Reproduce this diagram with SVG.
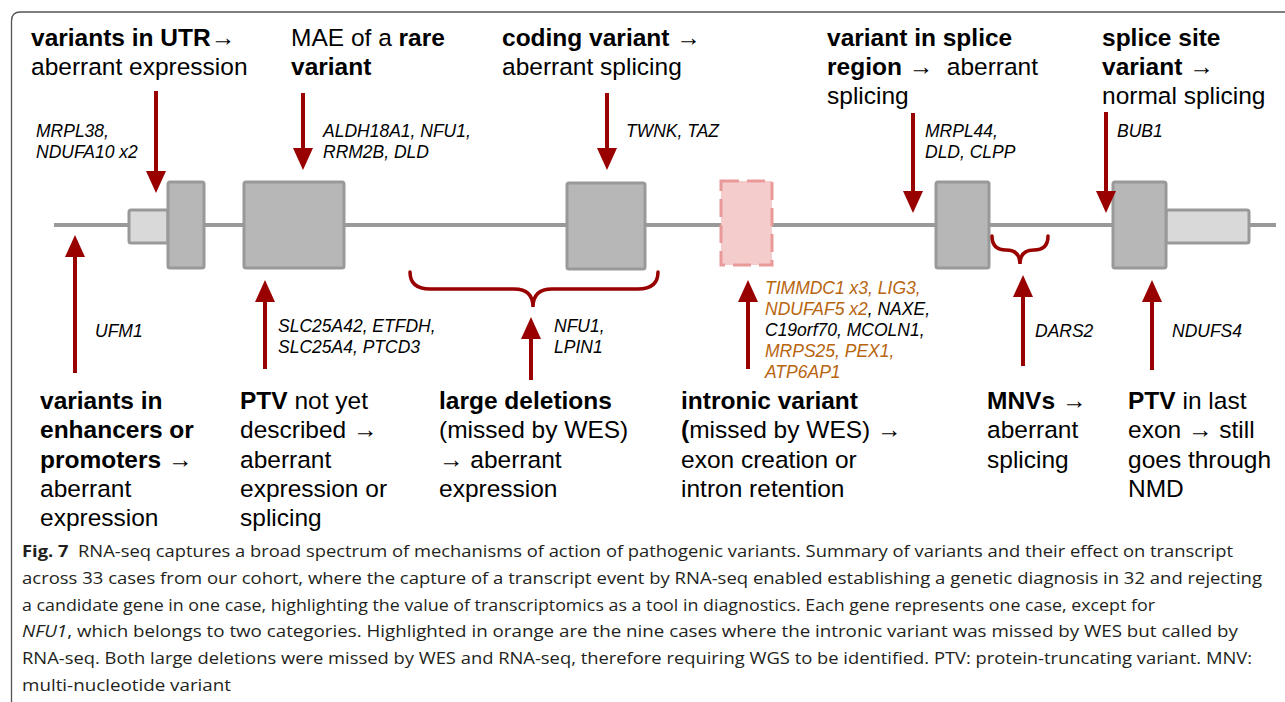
<svg xmlns="http://www.w3.org/2000/svg" width="1285" height="702" viewBox="0 0 1285 702">
<style>
.lbl{font-family:"Liberation Sans",Arial,sans-serif;font-size:24.5px;fill:#000;white-space:pre}
.b{font-weight:bold}
.gene{font-family:"Liberation Sans",Arial,sans-serif;font-size:17.5px;font-style:italic;fill:#000}
.or{fill:#b8650f}
.exon{fill:#b7b7b7;stroke:#999;stroke-width:3}
.utr{fill:#d9d9d9;stroke:#999;stroke-width:3}
.arr{stroke:#990000;stroke-width:4;fill:none}
.brace{stroke:#990000;stroke-width:3.5;fill:none;stroke-linecap:round}
.cap{font-family:"Open Sans","Lato",sans-serif;font-size:16.5px;fill:#231f20;white-space:pre}
</style>
<defs>
<marker id="head" viewBox="0 0 22 20" refX="0" refY="10" markerWidth="22" markerHeight="20" markerUnits="userSpaceOnUse" orient="auto">
<path d="M0,0 L22,10 L0,20 z" fill="#990000"/>
</marker>
</defs>
<rect width="1285" height="702" fill="#fff"/>
<path d="M11.5 702 V21 Q11.5 12 20.5 12 H1285" fill="none" stroke="#555" stroke-width="1.3"/>

<g id="gene-model">
<line x1="54" y1="225" x2="1276" y2="225" stroke="#999" stroke-width="4"/>
<rect id="utr5" class="utr" x="129" y="210" width="39" height="33" rx="2"/>
<rect id="exon1" class="exon" x="168" y="182" width="36" height="86" rx="2"/>
<rect id="exon2" class="exon" x="244" y="182" width="100" height="86" rx="2"/>
<rect id="exon3" class="exon" x="567" y="183" width="78" height="86" rx="2"/>
<rect id="new-exon" x="721" y="181" width="51" height="84" fill="#f4cccc" stroke="#ea9999" stroke-width="3" stroke-dasharray="18 8"/>
<rect id="exon4" class="exon" x="936" y="182" width="53" height="86" rx="2"/>
<rect id="utr3" class="utr" x="1166" y="210" width="83" height="33" rx="2"/>
<rect id="exon5" class="exon" x="1113" y="182" width="53" height="86" rx="2"/>
</g>

<g id="connectors">
<line class="arr" x1="156" y1="91" x2="156" y2="171" marker-end="url(#head)"/>
<line class="arr" x1="303" y1="93" x2="303" y2="148" marker-end="url(#head)"/>
<line class="arr" x1="607" y1="93" x2="607" y2="148" marker-end="url(#head)"/>
<line class="arr" x1="913" y1="113" x2="913" y2="191" marker-end="url(#head)"/>
<line class="arr" x1="1106" y1="112" x2="1106" y2="191" marker-end="url(#head)"/>
<line class="arr" x1="75" y1="373" x2="75" y2="257" marker-end="url(#head)"/>
<line class="arr" x1="265" y1="369" x2="265" y2="302" marker-end="url(#head)"/>
<line class="arr" x1="531" y1="380" x2="531" y2="339" marker-end="url(#head)"/>
<line class="arr" x1="748" y1="369" x2="748" y2="302" marker-end="url(#head)"/>
<line class="arr" x1="1023" y1="366" x2="1023" y2="297" marker-end="url(#head)"/>
<line class="arr" x1="1152" y1="370" x2="1152" y2="302" marker-end="url(#head)"/>
<path class="brace" d="M410 272 Q410 289 430 289 H514 Q533 289 533 307 Q533 289 552 289 H638 Q658 289 658 272"/>
<path class="brace" d="M992 236 Q992 250 1006 250 Q1020 250 1020 264 Q1020 250 1034 250 Q1048 250 1048 236"/>
</g>

<g id="utr-label">
<text class="lbl" x="31" y="46"><tspan class="b">variants in UTR</tspan>→</text>
<text class="lbl" x="31" y="75">aberrant expression</text>
<text class="gene" x="36" y="137">MRPL38,</text>
<text class="gene" x="36" y="158">NDUFA10 x2</text>
</g>
<g id="mae-label">
<text class="lbl" x="291" y="46">MAE of a <tspan class="b">rare</tspan></text>
<text class="lbl b" x="291" y="75">variant</text>
<text class="gene" x="323" y="137">ALDH18A1, NFU1,</text>
<text class="gene" x="323" y="158">RRM2B, DLD</text>
</g>
<g id="coding-label">
<text class="lbl" x="502" y="46"><tspan class="b">coding variant</tspan> →</text>
<text class="lbl" x="502" y="75">aberrant splicing</text>
<text class="gene" x="626" y="137">TWNK, TAZ</text>
</g>
<g id="splice-region-label">
<text class="lbl b" x="827" y="46">variant in splice</text>
<text class="lbl" x="827" y="75"><tspan class="b">region</tspan> →  aberrant</text>
<text class="lbl" x="827" y="104">splicing</text>
<text class="gene" x="925" y="137">MRPL44,</text>
<text class="gene" x="925" y="158">DLD, CLPP</text>
</g>
<g id="splice-site-label">
<text class="lbl b" x="1102" y="46">splice site</text>
<text class="lbl" x="1102" y="75"><tspan class="b">variant</tspan> →</text>
<text class="lbl" x="1102" y="104">normal splicing</text>
<text class="gene" x="1117" y="137">BUB1</text>
</g>

<g id="enhancer-label">
<text class="gene" x="95" y="337">UFM1</text>
<text class="lbl b" x="40" y="409">variants in</text>
<text class="lbl b" x="40" y="438">enhancers or</text>
<text class="lbl" x="40" y="468"><tspan class="b">promoters</tspan> →</text>
<text class="lbl" x="40" y="497">aberrant</text>
<text class="lbl" x="40" y="526">expression</text>
</g>
<g id="ptv-label">
<text class="gene" x="278" y="332">SLC25A42, ETFDH,</text>
<text class="gene" x="278" y="353">SLC25A4, PTCD3</text>
<text class="lbl" x="240" y="409"><tspan class="b">PTV</tspan> not yet</text>
<text class="lbl" x="240" y="438">described →</text>
<text class="lbl" x="240" y="468">aberrant</text>
<text class="lbl" x="240" y="497">expression or</text>
<text class="lbl" x="240" y="526">splicing</text>
</g>
<g id="deletion-label">
<text class="gene" x="554" y="332">NFU1,</text>
<text class="gene" x="554" y="353">LPIN1</text>
<text class="lbl b" x="439" y="409">large deletions</text>
<text class="lbl" x="439" y="438">(missed by WES)</text>
<text class="lbl" x="439" y="468">→ aberrant</text>
<text class="lbl" x="439" y="497">expression</text>
</g>
<g id="intronic-label">
<text class="gene or" x="765" y="294">TIMMDC1 x3, LIG3,</text>
<text class="gene" x="765" y="315"><tspan class="or">NDUFAF5 x2</tspan>, NAXE,</text>
<text class="gene" x="765" y="336">C19orf70, MCOLN1,</text>
<text class="gene or" x="765" y="357">MRPS25, PEX1,</text>
<text class="gene or" x="765" y="378">ATP6AP1</text>
<text class="lbl b" x="681" y="409">intronic variant</text>
<text class="lbl" x="681" y="438"><tspan class="b">(</tspan>missed by WES) →</text>
<text class="lbl" x="681" y="468">exon creation or</text>
<text class="lbl" x="681" y="497">intron retention</text>
</g>
<g id="mnv-label">
<text class="gene" x="1035" y="337">DARS2</text>
<text class="lbl" x="987" y="409"><tspan class="b">MNVs</tspan> →</text>
<text class="lbl" x="987" y="438">aberrant</text>
<text class="lbl" x="987" y="468">splicing</text>
</g>
<g id="last-exon-label">
<text class="gene" x="1172" y="337">NDUFS4</text>
<text class="lbl" x="1128" y="409"><tspan class="b">PTV</tspan> in last</text>
<text class="lbl" x="1128" y="438">exon → still</text>
<text class="lbl" x="1128" y="468">goes through</text>
<text class="lbl" x="1128" y="497">NMD</text>
</g>

<g id="caption">
<text class="cap" x="22" y="557" textLength="1211" lengthAdjust="spacingAndGlyphs"><tspan font-weight="bold">Fig. 7</tspan>  RNA-seq captures a broad spectrum of mechanisms of action of pathogenic variants. Summary of variants and their effect on transcript</text>
<text class="cap" x="22" y="584" textLength="1240" lengthAdjust="spacingAndGlyphs">across 33 cases from our cohort, where the capture of a transcript event by RNA-seq enabled establishing a genetic diagnosis in 32 and rejecting</text>
<text class="cap" x="22" y="611" textLength="1133" lengthAdjust="spacingAndGlyphs">a candidate gene in one case, highlighting the value of transcriptomics as a tool in diagnostics. Each gene represents one case, except for</text>
<text class="cap" x="22" y="637" textLength="1216" lengthAdjust="spacingAndGlyphs"><tspan font-style="italic">NFU1</tspan>, which belongs to two categories. Highlighted in orange are the nine cases where the intronic variant was missed by WES but called by</text>
<text class="cap" x="22" y="664" textLength="1230" lengthAdjust="spacingAndGlyphs">RNA-seq. Both large deletions were missed by WES and RNA-seq, therefore requiring WGS to be identified. PTV: protein-truncating variant. MNV:</text>
<text class="cap" x="22" y="691" textLength="209" lengthAdjust="spacingAndGlyphs">multi-nucleotide variant</text>
</g>
</svg>
